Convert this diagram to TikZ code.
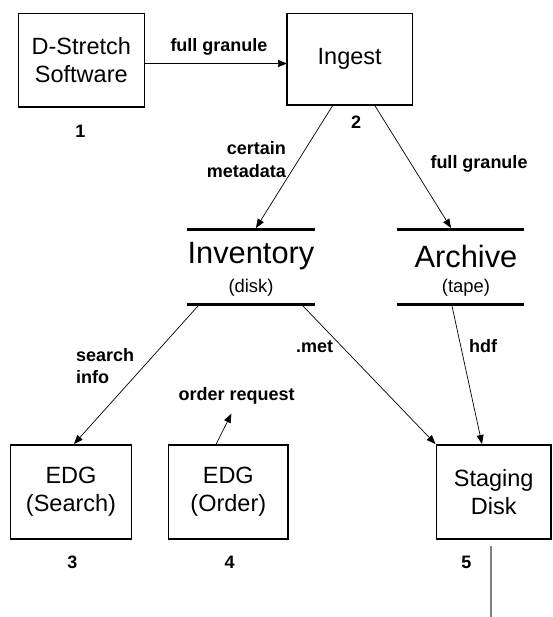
\documentclass[tikz,border=0pt]{standalone}
\usepackage{fontspec}
\setmainfont{Liberation Sans}
\usetikzlibrary{arrows.meta}
\begin{document}
\begin{tikzpicture}[x=1pt,y=-1pt,
  box/.style={draw, line width=1.6pt, inner sep=0pt, align=center,
    font=\fontsize{23.5}{28}\selectfont},
  lbl/.style={font=\bfseries\fontsize{18}{22.5}\selectfont, inner sep=0pt},
  num/.style={font=\bfseries\fontsize{18}{22}\selectfont, inner sep=0pt},
  big/.style={font=\fontsize{30.8}{34}\selectfont, inner sep=0pt},
  small/.style={font=\fontsize{18.4}{22}\selectfont, inner sep=0pt},
  bar/.style={line width=3.4pt},
  flow/.style={line width=0.7pt, -{Triangle[length=9pt,width=7pt]}},
]
\useasboundingbox (0,0) rectangle (552,617);

% boxes
\node[box, minimum width=126pt, minimum height=93.6pt] (dstretch) at (81.3,60.2) {D-Stretch\\Software};
\node[box, minimum width=125.4pt, minimum height=91.6pt] (ingest) at (349.7,59.2) {Ingest};
\node[box, minimum width=120.8pt, minimum height=94.2pt] (search) at (71,491.9) {EDG\\(Search)};
\node[box, minimum width=119.5pt, minimum height=94.2pt] (order) at (228.3,491.9) {EDG\\(Order)};
\node[box, minimum width=114.6pt, minimum height=94.2pt] (staging) at (493.7,491.9) {Staging\\Disk};

% numbers
\node[num] (n1) at (80.5,131.5) {1};
\node[num] (n2) at (356,122) {2};
\node[num] (n3) at (72.4,562) {3};
\node[num] (n4) at (229.7,562) {4};
\node[num] (n5) at (466.4,562) {5};

% data stores
\coordinate (invTL) at (187,229.7);
\coordinate (invTR) at (314.5,229.7);
\coordinate (invBL) at (187,304.5);
\coordinate (invBR) at (314.5,304.5);
\draw[bar] (invTL) -- (invTR);
\draw[bar] (invBL) -- (invBR);
\node[big] (inv) at (251,256.5) {Inventory};
\node[small] (invsub) at (251,288) {(disk)};

\coordinate (arcTL) at (396.5,229.7);
\coordinate (arcTR) at (523.7,229.7);
\coordinate (arcBL) at (396.5,304.5);
\coordinate (arcBR) at (523.7,304.5);
\draw[bar] (arcTL) -- (arcTR);
\draw[bar] (arcBL) -- (arcBR);
\node[big] (arc) at (466,256.5) {Archive};
\node[small] (arcsub) at (466,288) {(tape)};

% connector end points
\coordinate (dsOut) at (144.5,63.5);
\coordinate (ingIn) at (287,63.5);
\coordinate (ingA) at (333,105);
\coordinate (invIn) at (256,228);
\coordinate (ingB) at (374.5,105);
\coordinate (arcIn) at (451,228);
\coordinate (invOutA) at (198,306);
\coordinate (searchIn) at (74,444);
\coordinate (invOutB) at (303,306);
\coordinate (stagIn) at (435.5,444);
\coordinate (arcOut) at (452,306);
\coordinate (stagIn2) at (482,444);
\coordinate (orderOut) at (216,444.4);
\coordinate (orderEnd) at (231.4,413.7);
\coordinate (gtop) at (491,546);
\coordinate (gbot) at (491,617);

% connectors
\draw[flow] (dsOut) -- (ingIn);
\draw[flow] (ingA) -- (invIn);
\draw[flow] (ingB) -- (arcIn);
\draw[flow] (invOutA) -- (searchIn);
\draw[flow] (invOutB) -- (stagIn);
\draw[flow] (arcOut) -- (stagIn2);
\draw[flow] (orderOut) -- (orderEnd);
\draw[gray, line width=1.1pt] (gtop) -- (gbot);

% labels
\node[lbl] (l1) at (219,47) {full granule};
\node[lbl, align=right, anchor=east] (l2) at (286,159.5) {certain\\metadata};
\node[lbl] (l3) at (479,164) {full granule};
\node[lbl, align=left, anchor=west] (l4) at (76,366) {search\\info};
\node[lbl] (l5) at (314.5,346.5) {.met};
\node[lbl] (l6) at (483,346) {hdf};
\node[lbl] (l7) at (236.7,396) {order request};
\end{tikzpicture}
\end{document}
